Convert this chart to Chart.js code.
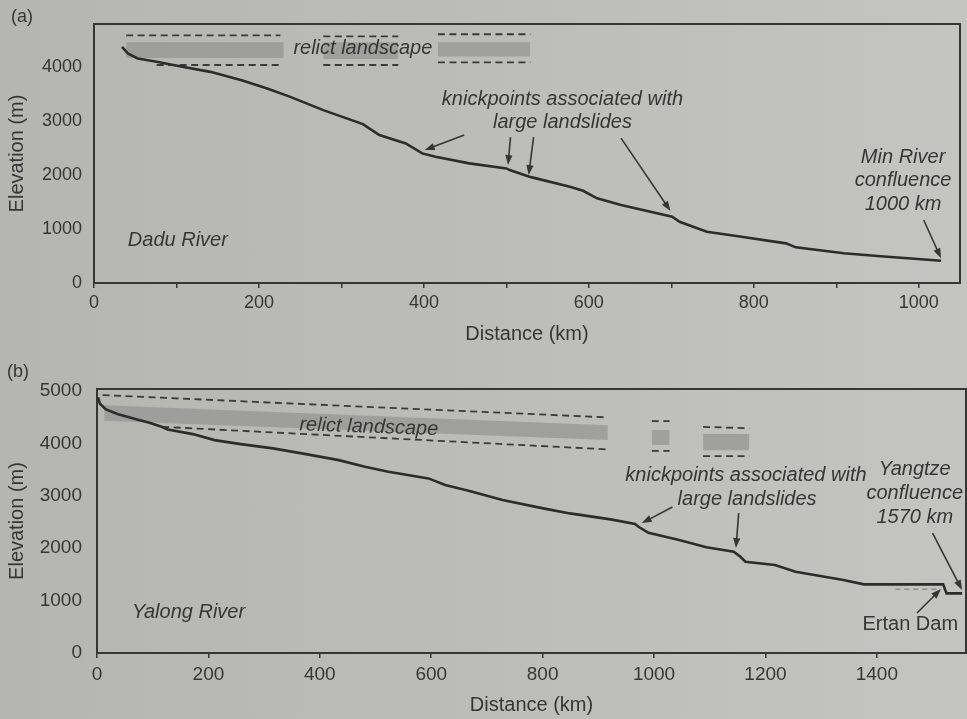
<!DOCTYPE html>
<html>
<head>
<meta charset="utf-8">
<script src="https://cdn.jsdelivr.net/npm/chart.js@4.4.0/dist/chart.umd.min.js"></script>
<style>
  html, body { margin: 0; padding: 0; width: 967px; height: 719px; overflow: hidden;
    background: linear-gradient(90deg, #b6b6b1 0%, #bdbdb8 50%, #c4c4c0 100%); }
  canvas { position: absolute; left: 0; }
  #ca { top: 0; }
  #cb { top: 355px; }
</style>
</head>
<body>
<canvas id="ca" width="967" height="355"></canvas>
<canvas id="cb" width="967" height="364"></canvas>
<script>
// ---- Dadu River long profile (distance km, elevation m)
const daduKm   = [34, 41, 53, 76, 107, 141, 179, 210, 238, 278, 326, 346, 378, 398, 414, 455, 500, 504, 528, 536,
                  577, 593, 610, 639, 701, 710, 743, 785, 839, 851, 909, 950, 1027];
const daduElev = [4376, 4254, 4161, 4099, 4006, 3913, 3759, 3605, 3450, 3204, 2945, 2741, 2587, 2402, 2339, 2217, 2124, 2093, 1969, 1939,
                  1784, 1709, 1569, 1445, 1228, 1135, 950, 857, 735, 661, 550, 500, 413];

// ---- Yalong River long profile (distance km, elevation m)
const yalongKm   = [2, 5, 16, 38, 72, 94, 116, 127, 172, 211, 258, 316, 375, 434, 481, 523, 595, 625, 667, 728,
                    801, 849, 922, 966, 972, 990, 1045, 1094, 1143, 1155, 1164, 1217, 1254, 1340, 1377, 1519, 1525, 1553];
const yalongElev = [4879, 4764, 4650, 4560, 4459, 4394, 4318, 4268, 4179, 4064, 3988, 3906, 3797, 3682, 3555, 3459, 3333, 3206, 3097, 2919,
                    2761, 2665, 2551, 2461, 2410, 2295, 2156, 2017, 1933, 1837, 1742, 1679, 1551, 1393, 1311, 1311, 1139, 1139];

// ---- relict landscape patches: [fromKm, toKm, elevAtFrom, elevAtTo]
const daduBandTop   = [[39, 230, 4460, 4460], [278, 369, 4460, 4460], [417, 529, 4460, 4460]];
const daduBandBase  = [[39, 230, 4170, 4170], [278, 369, 4150, 4150], [417, 529, 4200, 4200]];
const daduDashTop   = [[39, 226, 4590, 4590], [278, 369, 4570, 4570], [417, 529, 4610, 4610]];
const daduDashBase  = [[76, 226, 4040, 4040], [278, 369, 4040, 4040], [417, 529, 4090, 4090]];

const yalongBandTop  = [[13, 917, 4732, 4350], [996, 1028, 4255, 4255], [1088, 1171, 4179, 4179]];
const yalongBandBase = [[13, 917, 4432, 4064], [996, 1028, 3969, 3969], [1088, 1171, 3873, 3873]];
const yalongDashTop  = [[10, 917, 4923, 4497], [996, 1028, 4427, 4427], [1088, 1171, 4318, 4290]];
const yalongDashBase = [[117, 917, 4318, 3887], [996, 1028, 3860, 3860], [1088, 1171, 3759, 3759]];
// river level before the Ertan reservoir
const yalongPreDam   = [[1433, 1507, 1215, 1215]];

// ---- axis ticks (labelled, plus unlabelled minor marks)
const daduXTicks   = [0, 200, 400, 600, 800, 1000];
const daduXMinor   = [100, 300, 500, 700, 900];
const daduYTicks   = [0, 1000, 2000, 3000, 4000];
const yalongXTicks = [0, 200, 400, 600, 800, 1000, 1200, 1400];
const yalongXMinor = [];
const yalongYTicks = [0, 1000, 2000, 3000, 4000, 5000];

const INK = '#363634';
const FONT = '"Liberation Sans", Arial, Helvetica, sans-serif';

const toPoints = (xs, ys) => xs.map((v, i) => ({ x: v, y: ys[i] }));
const segPoints = s => [{ x: s[0], y: s[2] }, { x: s[1], y: s[3] }];

function profileDatasets(km, elev, bandTop, bandBase, dashTop, dashBase, extraDash) {
  const sets = [{
    data: toPoints(km, elev), borderColor: '#2c2c2a', borderWidth: 2.6,
    pointRadius: 0, tension: 0, fill: false
  }];
  [...dashTop, ...dashBase].forEach(s => sets.push({
    data: segPoints(s), borderColor: '#3a3a38', borderWidth: 1.8,
    borderDash: [7, 4.5], pointRadius: 0, fill: false
  }));
  (extraDash || []).forEach(s => sets.push({
    data: segPoints(s), borderColor: '#8f8f8b', borderWidth: 1.5,
    borderDash: [5, 4], pointRadius: 0, fill: false
  }));
  bandTop.forEach((s, i) => {
    sets.push({ data: segPoints(s), borderWidth: 0, pointRadius: 0,
      backgroundColor: 'rgba(150,150,146,0.75)', fill: '+1' });
    sets.push({ data: segPoints(bandBase[i]), borderWidth: 0, pointRadius: 0, fill: false });
  });
  return sets;
}

// frame around the plot plus annotation text and arrows
const notesPlugin = {
  id: 'notes',
  beforeDatasetsDraw(chart) {
    const { ctx, chartArea: a } = chart;
    ctx.save();
    ctx.strokeStyle = INK;
    ctx.lineWidth = 2;
    ctx.strokeRect(a.left, a.top, a.right - a.left, a.bottom - a.top);
    ctx.restore();
  },
  afterDatasetsDraw(chart, args, opts) {
    const { ctx } = chart;
    const x = chart.scales.x, y = chart.scales.y;
    ctx.save();
    ctx.fillStyle = INK;
    ctx.strokeStyle = INK;
    (opts.arrows || []).forEach(a => {
      const x1 = x.getPixelForValue(a[0]), y1 = y.getPixelForValue(a[1]);
      const x2 = x.getPixelForValue(a[2]), y2 = y.getPixelForValue(a[3]);
      const ang = Math.atan2(y2 - y1, x2 - x1);
      const hl = 10, hw = 3.6;
      const c = Math.cos(ang), s = Math.sin(ang);
      ctx.lineWidth = 1.6;
      ctx.beginPath();
      ctx.moveTo(x1, y1);
      ctx.lineTo(x2 - hl * 0.7 * c, y2 - hl * 0.7 * s);
      ctx.stroke();
      ctx.beginPath();
      ctx.moveTo(x2, y2);
      ctx.lineTo(x2 - hl * c + hw * s, y2 - hl * s - hw * c);
      ctx.lineTo(x2 - hl * c - hw * s, y2 - hl * s + hw * c);
      ctx.closePath();
      ctx.fill();
    });
    (opts.texts || []).forEach(t => {
      ctx.font = (t.italic ? 'italic ' : '') + (t.size || 20) + 'px ' + FONT;
      ctx.textAlign = t.align || 'center';
      ctx.textBaseline = 'middle';
      const px = x.getPixelForValue(t.x), py = y.getPixelForValue(t.y);
      ctx.save();
      ctx.translate(px, py);
      if (t.rot) ctx.rotate(t.rot * Math.PI / 180);
      ctx.fillText(t.text, 0, 0);
      ctx.restore();
    });
    if (opts.panel) {
      ctx.font = '18px ' + FONT;
      ctx.textAlign = 'left';
      ctx.textBaseline = 'middle';
      ctx.fillText(opts.panel.text, opts.panel.left, opts.panel.mid);
    }
    ctx.restore();
  }
};

function makeChart(canvasId, cfg) {
  const tickFont = { family: FONT, size: cfg.tickSize };
  const titleFont = { family: FONT, size: 20 };
  const xAll = [...cfg.xTicks, ...cfg.xMinor].sort((a, b) => a - b);
  return new Chart(document.getElementById(canvasId), {
    type: 'line',
    data: { datasets: cfg.datasets },
    plugins: [notesPlugin],
    options: {
      responsive: false,
      devicePixelRatio: 1,
      animation: false,
      events: [],
      layout: { padding: cfg.padding },
      plugins: {
        legend: { display: false },
        tooltip: { enabled: false },
        notes: cfg.notes
      },
      scales: {
        x: {
          type: 'linear', min: 0, max: cfg.xMax,
          border: { display: false },
          grid: { display: true, drawOnChartArea: false, drawTicks: true, tickLength: 5,
                  color: INK, lineWidth: 1.5 },
          afterBuildTicks: s => { s.ticks = xAll.map(v => ({ value: v })); },
          ticks: {
            autoSkip: false, maxRotation: 0,
            color: INK, font: tickFont, padding: cfg.xTickPad,
            callback: v => cfg.xTicks.includes(Math.round(v)) ? String(Math.round(v)) : ''
          },
          title: { display: true, text: 'Distance (km)', color: INK, font: titleFont,
                   padding: { top: 0, bottom: cfg.xTitlePad } },
          afterFit: s => { s.height = cfg.xAxisHeight; }
        },
        y: {
          type: 'linear', min: 0, max: cfg.yMax,
          border: { display: false },
          grid: { display: false, drawTicks: false },
          afterBuildTicks: s => { s.ticks = cfg.yTicks.map(v => ({ value: v })); },
          ticks: {
            autoSkip: false, color: INK, font: tickFont, padding: cfg.yTickPad,
            callback: v => String(Math.round(v))
          },
          title: { display: true, text: 'Elevation (m)', color: INK, font: titleFont,
                   padding: { top: 5, bottom: 0 } },
          afterFit: s => { s.width = cfg.yAxisWidth; }
        }
      }
    }
  });
}

// (a) Dadu River
makeChart('ca', {
  datasets: profileDatasets(daduKm, daduElev, daduBandTop, daduBandBase, daduDashTop, daduDashBase),
  xMax: 1050, yMax: 4800, xTicks: daduXTicks, xMinor: daduXMinor, yTicks: daduYTicks,
  tickSize: 18, xTickPad: 4, yTickPad: 12, xTitlePad: 9,
  xAxisHeight: 72, yAxisWidth: 94,
  padding: { top: 24, right: 7, left: 0, bottom: 0 },
  notes: {
    panel: { text: '(a)', left: 11, mid: 17 },
    texts: [
      { text: 'relict landscape', x: 326, y: 4352, italic: true },
      { text: 'knickpoints associated with', x: 568, y: 3407, italic: true },
      { text: 'large landslides', x: 568, y: 2981, italic: true },
      { text: 'Min River', x: 981, y: 2333, italic: true },
      { text: 'confluence', x: 981, y: 1907, italic: true },
      { text: '1000 km', x: 981, y: 1463, italic: true },
      { text: 'Dadu River', x: 41, y: 796, italic: true, align: 'left' }
    ],
    arrows: [
      [449, 2741, 401, 2463],
      [505, 2704, 502, 2185],
      [533, 2704, 527, 2000],
      [639, 2685, 699, 1333],
      [1006, 1167, 1027, 457]
    ]
  }
});

// (b) Yalong River
makeChart('cb', {
  datasets: profileDatasets(yalongKm, yalongElev, yalongBandTop, yalongBandBase, yalongDashTop, yalongDashBase, yalongPreDam),
  xMax: 1560, yMax: 5040, xTicks: yalongXTicks, xMinor: yalongXMinor, yTicks: yalongYTicks,
  tickSize: 19, xTickPad: 5, yTickPad: 15, xTitlePad: 2,
  xAxisHeight: 66, yAxisWidth: 97,
  padding: { top: 34, right: 1, left: 0, bottom: 0 },
  notes: {
    panel: { text: '(b)', left: 7, mid: 17 },
    texts: [
      { text: 'relict landscape', x: 488, y: 4312, italic: true, rot: 2 },
      { text: 'knickpoints associated with', x: 1165, y: 3396, italic: true },
      { text: 'large landslides', x: 1167, y: 2938, italic: true },
      { text: 'Yangtze', x: 1468, y: 3511, italic: true },
      { text: 'confluence', x: 1468, y: 3053, italic: true },
      { text: '1570 km', x: 1468, y: 2595, italic: true },
      { text: 'Ertan Dam', x: 1460, y: 553 },
      { text: 'Yalong River', x: 63, y: 782, italic: true, align: 'left' }
    ],
    arrows: [
      [1033, 2786, 978, 2480],
      [1152, 2671, 1147, 2003],
      [1500, 2290, 1553, 1202],
      [1472, 763, 1515, 1221]
    ]
  }
});
</script>
</body>
</html>
